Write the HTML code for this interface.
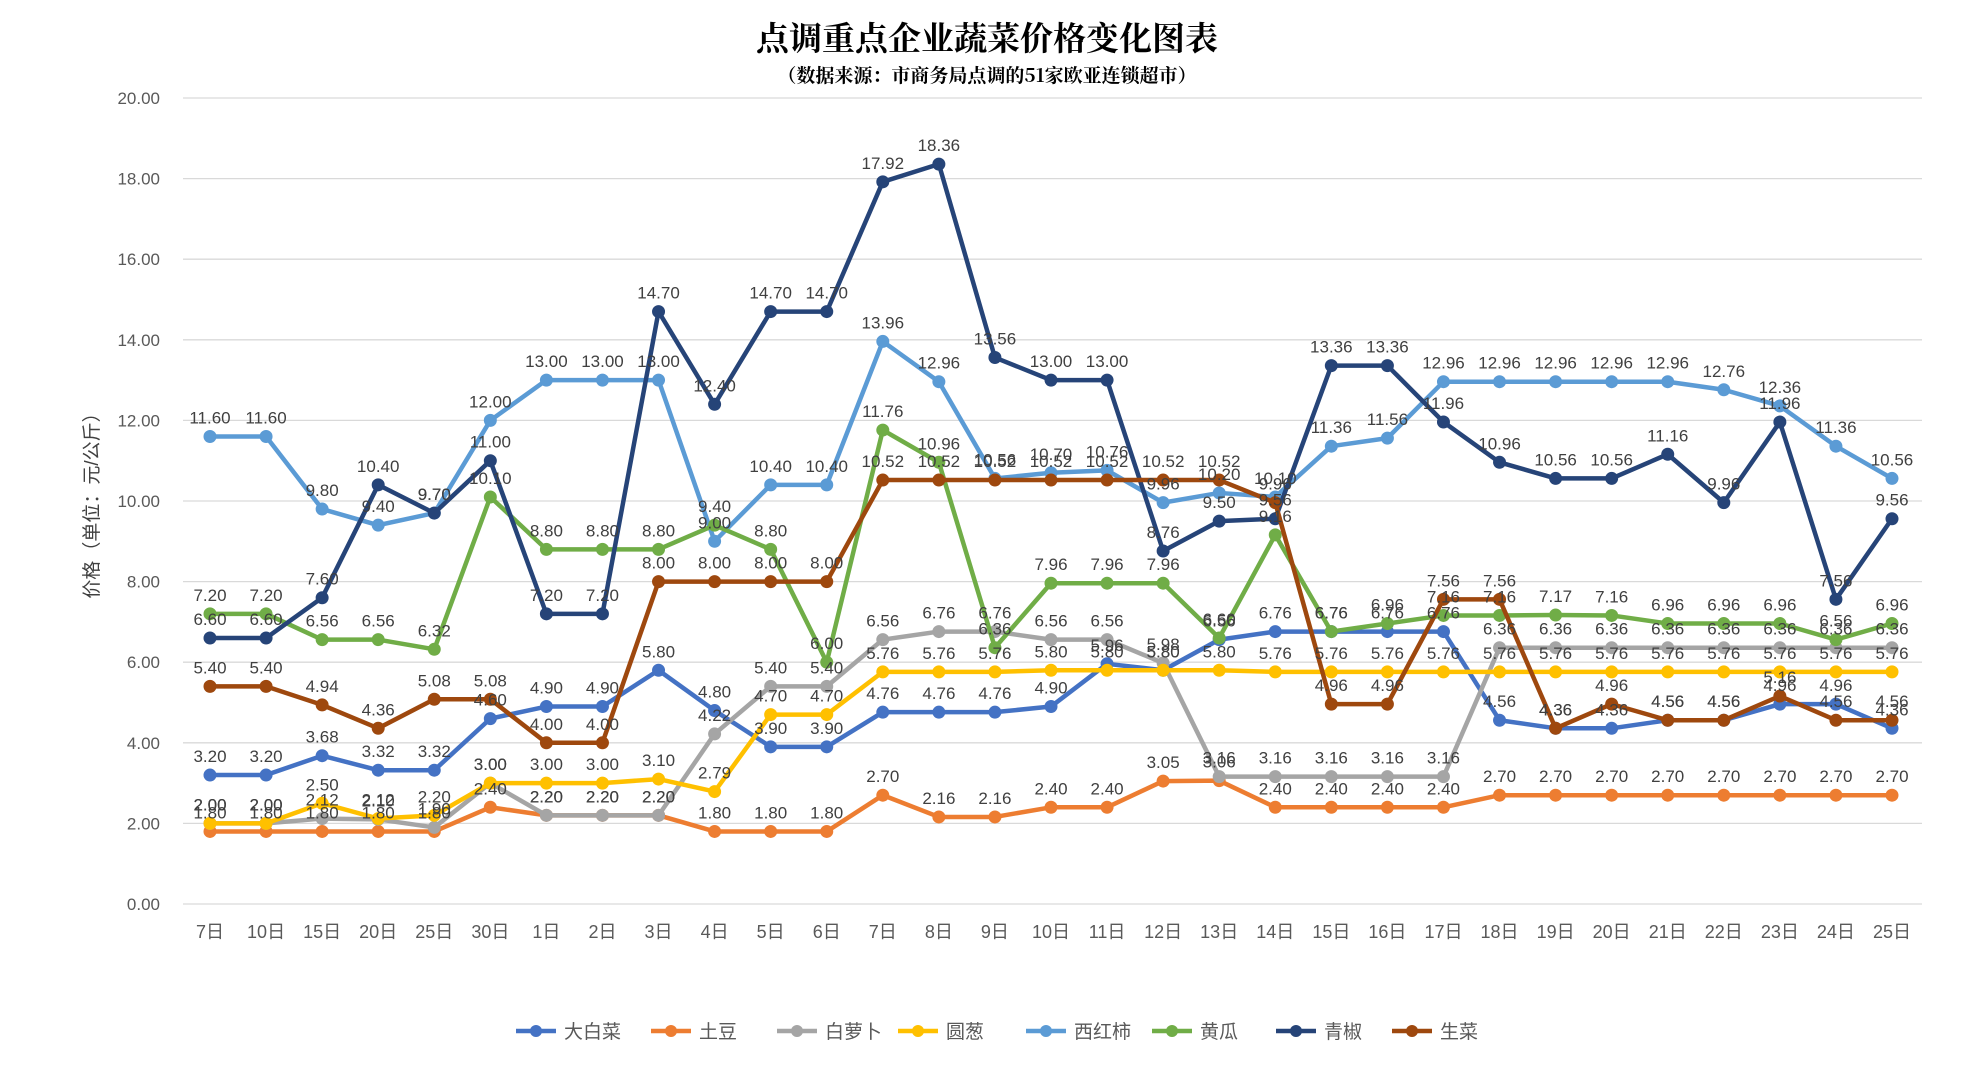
<!DOCTYPE html>
<html><head><meta charset="utf-8"><style>
body{margin:0;background:#fff;}
svg{display:block;font-family:"Liberation Sans","Noto Sans CJK SC",sans-serif;}
</style></head><body>
<svg id="chart" width="1974" height="1068" viewBox="0 0 1974 1068">
<text x="987" y="50" text-anchor="middle" font-size="33" font-weight="bold" fill="#000" font-family="'Noto Serif CJK SC','Noto Sans CJK SC',serif">点调重点企业蔬菜价格变化图表</text>
<text x="987" y="82" text-anchor="middle" font-size="19" font-weight="bold" fill="#000" font-family="'Noto Serif CJK SC','Noto Sans CJK SC',serif">（数据来源：市商务局点调的51家欧亚连锁超市）</text>
<text transform="translate(98,501) rotate(-90)" text-anchor="middle" font-size="19" fill="#404040">价格（单位：元/公斤）</text>
<g id="grid"></g><g id="lines"></g><g id="labels"></g><g id="legend"></g>
</svg>
<script>
const categories=["7日","10日","15日","20日","25日","30日","1日","2日","3日","4日","5日","6日","7日","8日","9日","10日","11日","12日","13日","14日","15日","16日","17日","18日","19日","20日","21日","22日","23日","24日","25日"];
const yTicks=[0,2,4,6,8,10,12,14,16,18,20];
const seriesNames=["大白菜","土豆","白萝卜","圆葱","西红柿","黄瓜","青椒","生菜"];
const seriesColors=["#4472C4","#ED7D31","#A5A5A5","#FFC000","#5B9BD5","#70AD47","#264478","#9E480E"];
const dabaicai=[3.20,3.20,3.68,3.32,3.32,4.60,4.90,4.90,5.80,4.80,3.90,3.90,4.76,4.76,4.76,4.90,5.96,5.80,6.56,6.76,6.76,6.76,6.76,4.56,4.36,4.36,4.56,4.56,4.96,4.96,4.36];
const tudou=[1.80,1.80,1.80,1.80,1.80,2.40,2.20,2.20,2.20,1.80,1.80,1.80,2.70,2.16,2.16,2.40,2.40,3.05,3.06,2.40,2.40,2.40,2.40,2.70,2.70,2.70,2.70,2.70,2.70,2.70,2.70];
const bailuobo=[2.00,2.00,2.12,2.10,1.90,3.00,2.20,2.20,2.20,4.22,5.40,5.40,6.56,6.76,6.76,6.56,6.56,5.98,3.16,3.16,3.16,3.16,3.16,6.36,6.36,6.36,6.36,6.36,6.36,6.36,6.36];
const yuancong=[2.00,2.00,2.50,2.12,2.20,3.00,3.00,3.00,3.10,2.79,4.70,4.70,5.76,5.76,5.76,5.80,5.80,5.80,5.80,5.76,5.76,5.76,5.76,5.76,5.76,5.76,5.76,5.76,5.76,5.76,5.76];
const xihongshi=[11.60,11.60,9.80,9.40,9.70,12.00,13.00,13.00,13.00,9.00,10.40,10.40,13.96,12.96,10.56,10.70,10.76,9.96,10.20,10.10,11.36,11.56,12.96,12.96,12.96,12.96,12.96,12.76,12.36,11.36,10.56];
const huanggua=[7.20,7.20,6.56,6.56,6.32,10.10,8.80,8.80,8.80,9.40,8.80,6.00,11.76,10.96,6.36,7.96,7.96,7.96,6.60,9.16,6.76,6.96,7.16,7.16,7.17,7.16,6.96,6.96,6.96,6.56,6.96];
const qingjiao=[6.60,6.60,7.60,10.40,9.70,11.00,7.20,7.20,14.70,12.40,14.70,14.70,17.92,18.36,13.56,13.00,13.00,8.76,9.50,9.56,13.36,13.36,11.96,10.96,10.56,10.56,11.16,9.96,11.96,7.56,9.56];
const shengcai=[5.40,5.40,4.94,4.36,5.08,5.08,4.00,4.00,8.00,8.00,8.00,8.00,10.52,10.52,10.52,10.52,10.52,10.52,10.52,9.96,4.96,4.96,7.56,7.56,4.36,4.96,4.56,4.56,5.16,4.56,4.56];
const seriesValues=[dabaicai,tudou,bailuobo,yuancong,xihongshi,huanggua,qingjiao,shengcai];

const NS="http://www.w3.org/2000/svg";
const x0=210,x1=1892,yBase=904,yTop=98,gL=183,gR=1922;
const legendX=[516,651,777,898,1026,1152,1276,1392];
const xs=i=>x0+(x1-x0)*i/(categories.length-1);
const ys=v=>yBase-(yBase-yTop)*v/20;
function mk(tag,attrs,parent){const e=document.createElementNS(NS,tag);for(const k in attrs)e.setAttribute(k,attrs[k]);parent.appendChild(e);return e;}
const grid=document.getElementById('grid'),lines=document.getElementById('lines'),labels=document.getElementById('labels'),legend=document.getElementById('legend');
yTicks.forEach(t=>{
  const l=mk('line',{x1:gL,x2:gR,y1:ys(t),y2:ys(t),stroke:'#D9D9D9','stroke-width':1.3},grid);
  
  
  const tx=mk('text',{x:160,y:ys(t)+6,'text-anchor':'end','font-size':17,fill:'#595959'},grid);
  tx.textContent=t.toFixed(2);
  
  
});
categories.forEach((c,i)=>{
  const tx=mk('text',{x:xs(i),y:938,'text-anchor':'middle','font-size':18,fill:'#595959'},grid);
  tx.textContent=c;
  
  
});
seriesValues.forEach((vals,s)=>{
  const col=seriesColors[s];
  const p=mk('polyline',{points:vals.map((v,i)=>xs(i)+','+ys(v)).join(' '),fill:'none',stroke:col,'stroke-width':4.5,'stroke-linejoin':'round'},lines);
  
  
  vals.forEach((v,i)=>{
    const c=mk('circle',{cx:xs(i),cy:ys(v),r:6,fill:col,stroke:col},lines);
    
    
    const t=mk('text',{x:xs(i),y:ys(v)-13,'text-anchor':'middle','font-size':17,fill:'#404040'},labels);
    t.textContent=v.toFixed(2);
    
    
  });
  const lx=legendX[s],ly=1031;
  const g=mk('g',{},legend);
  
  
  mk('line',{x1:lx,x2:lx+40,y1:ly,y2:ly,stroke:col,'stroke-width':4.5},g);
  mk('circle',{cx:lx+20,cy:ly,r:6,fill:col},g);
  const t=mk('text',{x:lx+48,y:ly+7,'font-size':19,fill:'#595959'},g);
  t.textContent=seriesNames[s];
});
</script>
</body></html>
